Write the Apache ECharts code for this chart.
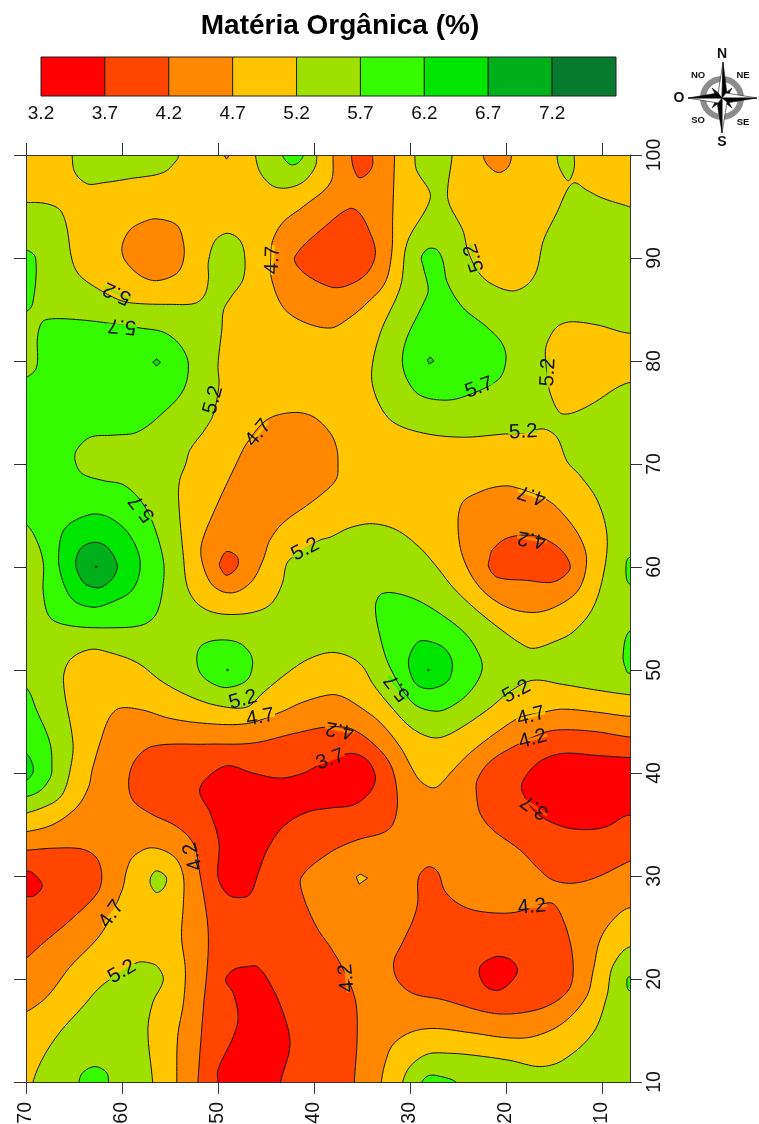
<!DOCTYPE html>
<html><head><meta charset="utf-8">
<style>html,body{margin:0;padding:0;background:#fff}#c{width:759px;height:1124px}</style>
<script src="https://cdn.jsdelivr.net/npm/echarts@6/dist/echarts.min.js"></script>
</head><body><div id="c"></div>
<script>
// Legend
const levels = [3.2,3.7,4.2,4.7,5.2,5.7,6.2,6.7,7.2];
const bandColors = ['#FF0000','#FF4500','#FF8800','#FFC600','#A0E000','#36FA00','#00E600','#00B01A','#067A2D'];
// Axes
const xTicks = [10,20,30,40,50,60,70];
const yTicks = [10,20,30,40,50,60,70,80,90,100];
// Contour regions, [x, y] in data units (band index = legend class)
const yellowMain = [[70,95.4],[68,95.3],[66.5,94.7],[65.8,93.2],[65.2,89.8],[64.4,88.3],[62.3,86.9],[60.2,85.9],[58.6,85.6],[55,85.5],[52.4,85.6],[51.4,86.4],[51,87.9],[51,89.6],[50.3,91.7],[49,92.4],[47.7,91.7],[47.2,90],[47.4,87.9],[48.5,86.4],[49.4,85],[49.6,83],[50,79.6],[49.9,77.7],[50.5,74.8],[51.4,73.3],[52.9,71.4],[53.4,69.9],[54,68.4],[54.1,66.5],[53.6,61],[53.2,58.1],[52.2,56.5],[50.5,55.6],[48,55.4],[45.6,55.8],[44.3,56.6],[43.3,58.4],[42.8,60.4],[41.8,61.2],[39.4,62.6],[38.3,62.9],[36.3,63.8],[33.9,64.2],[31.4,63.6],[29,61.9],[27.2,60],[25.5,58],[23.4,56.1],[20.9,54.2],[18.5,52.6],[17.2,52.1],[15.1,52.7],[13,53.7],[10.9,56.1],[9.7,60],[9.5,63.3],[10.5,66.5],[12.3,68.9],[13.6,70.2],[14.7,72.6],[16.1,73.4],[18.2,73],[20.3,72.9],[24.5,72.6],[28.6,73],[31.8,74.1],[33.4,76.2],[34,78.8],[33.1,82.7],[31,87.2],[30.3,91.5],[28.2,95],[27.9,96.3],[29.3,98.5],[29.5,100],[29.5,101.5],[71.5,101.5],[71.5,95.4]];
const yellowTopRight = [[25.6,100],[26.1,96.3],[25.8,95],[24.5,92.7],[24,90.8],[23,88.8],[21.7,87.6],[19.4,86.8],[17.8,87.4],[16.8,88.8],[16.1,91.7],[14.7,94.4],[13.5,96.8],[12.8,97.3],[11.6,96.6],[9.9,95.8],[7.2,95],[5.5,94.5],[5.5,101.5],[25.6,101.5]];
const yellowRight80 = [[7.2,82.7],[10.5,83.5],[13.3,83.8],[14.7,83.3],[15.6,82],[15.9,80.9],[15.7,78.6],[15.4,76.9],[14.4,75],[13.3,74.9],[11.3,75.7],[7.2,77.9],[5.5,77],[5.5,83]];
const yellowLower = [[70,36.1],[67.2,37.1],[66.1,38.1],[65.4,40.3],[65.1,42.9],[66.1,49],[65.4,51],[63.3,52],[61.3,51.7],[58.4,50.7],[55.7,48.8],[52.6,47.3],[49.8,46.5],[47,46.4],[45.3,47.8],[42.8,49.7],[40.7,51],[38.3,51.7],[36.3,51.3],[34.9,50.3],[33.9,48.7],[32.3,46.8],[30,44.5],[28,43.5],[26.6,43.5],[24.5,44.5],[21.7,46.3],[19.6,47.9],[17.2,49],[14.1,48.6],[10.9,48.1],[7.2,47.6],[5.5,47.5],[5.5,22.5],[7.2,23.1],[8.9,21.2],[9.5,18.3],[10.9,14.8],[14.1,12.1],[16.5,11.5],[19.6,12.1],[23.4,12.6],[26.1,12.8],[28.2,12.7],[30,11.5],[30.8,9.9],[31,8.5],[56.8,8.5],[56.8,9.9],[57.3,15],[56.8,17.7],[55.7,19.9],[56.3,21.2],[57.3,21.6],[58.4,21.6],[60.2,20.6],[62.3,19.2],[64.1,17.3],[66.5,14.8],[68.2,12.4],[69.3,9.9],[69.3,8.5],[71.5,8.5],[71.5,36]];
const limeTop1 = [[65.2,100],[64.9,98.3],[63.6,97.2],[62,97.3],[59.2,97.7],[55.7,98.3],[54.3,99.5],[54.1,100],[54.1,101.5],[65.2,101.5]];
const limeTop2 = [[46.1,100],[45.6,98.3],[44.3,97],[42.8,96.8],[41.1,97.4],[39.9,98.8],[39.7,100],[39.7,101.5],[46.1,101.5]];
const limeTop3 = [[14.7,100],[14.4,98.7],[13.5,97.5],[12.9,98.7],[12.9,100],[12.9,101.5],[14.7,101.5]];
const limeSmall30 = [[56.4,30.5],[55.4,29.9],[55.6,28.9],[56.4,28.4],[57,29.1],[57,29.9]];
const greenTop2 = [[43.3,100],[42.5,99.1],[41.7,99.2],[41.1,100],[41.1,101.5],[43.3,101.5]];
const orangeLower = [[70,34.3],[67.2,35],[64.7,36.7],[63.5,38.6],[63.1,40.3],[62.3,42.9],[61.3,45.4],[60.2,46.3],[57.8,46.1],[55,45.3],[51.1,44.8],[47,44.8],[43.5,45.9],[41.1,46.9],[38.3,47.6],[37,47.4],[35.2,46.4],[33.1,44.9],[31,42.5],[29.7,40.3],[29,39.3],[27.9,38.6],[27.1,38.7],[25.5,40.3],[23.8,41.9],[20.9,44],[18.5,45.4],[16.1,45.9],[14.1,46.2],[10.5,45.9],[7.2,45.5],[5.5,45.5],[5.5,26.5],[7.2,26.9],[8.9,25.7],[10.2,23.8],[10.9,20.9],[11.6,18.3],[14.1,15.7],[17.2,14.4],[19.9,14.3],[23.8,14.8],[27.6,15.2],[30,14.8],[31.8,13.6],[32.6,11.8],[33,9.9],[33,8.5],[54.3,8.5],[54.3,9.9],[54.2,14.4],[53.6,17.7],[53.4,20.9],[53.8,24.1],[53.6,27.4],[53.6,29.9],[54.3,31.6],[55.7,32.5],[57.3,32.7],[58.9,31.8],[59.5,30.6],[60,28.6],[62.1,24.5],[65.4,21.2],[67.8,18.3],[70,16.8],[71.5,16.5],[71.5,34.3]];
const orangeTop = [[38,100],[38.3,97.3],[41.1,95],[43.2,93.5],[44.3,91.7],[44.5,89.8],[44.4,87.9],[43.2,85.2],[41.1,83.8],[38.3,83.2],[36.6,84],[34.5,85.6],[32.6,87.6],[31.9,90.5],[31.8,94],[31.6,100],[31.6,101.5],[38,101.5]];
const orangeCircle = [[56.4,93.8],[54.3,93.2],[53.6,91.5],[53.6,89.8],[54.3,88.5],[56.4,87.8],[58.1,88.3],[59.7,89.8],[60,91.1],[59.2,92.7],[57.8,93.5]];
const orangeTopSmall = [[22.4,100],[21.9,99],[20.8,98.3],[19.8,98.8],[19.4,100],[19.4,101.5],[22.4,101.5]];
const orangeTick = [[49.4,100],[49.1,99.6],[48.8,100],[48.8,101],[49.4,101]];
const orangeCentral = [[47.9,70.4],[47,72],[44.9,74.3],[42.2,75],[40.1,74.6],[38.3,73],[37.6,71.4],[37.5,69.7],[37.6,68.7],[38.3,67.8],[40.4,66.2],[43.2,64.3],[44.6,62.6],[45.3,60.7],[46.4,58.7],[48,57.6],[49.5,57.6],[50.8,58.5],[51.7,60.7],[51.7,62.3],[50.5,65.2]];
const orangeRight = [[25,64.3],[24.5,66.3],[22.7,67.3],[20.9,67.8],[19.3,67.8],[15.7,66.5],[14.1,65.2],[12.3,62.9],[11.6,60.7],[12.3,58],[14.1,56.5],[16.8,55.6],[19.9,56.1],[22.7,58],[24.5,61]];
const deepMain = [[59.3,39.3],[58.6,41.3],[56.8,42.6],[51.1,42.8],[46.4,42.9],[41.8,43.9],[38.3,44.5],[35.9,44.2],[33.1,42.2],[31.8,40.3],[31.3,37.1],[31.8,35],[32.8,34.2],[35.5,33.5],[38.3,32.3],[41.3,29.9],[41.1,28],[39.7,25],[38.3,23.1],[37.1,21.2],[35.7,18],[35.5,14.4],[35.8,9.9],[35.8,8.5],[52.1,8.5],[52.1,9.9],[51.6,16.3],[51,24.1],[51.9,30.3],[52.6,33.2],[54.3,34.8],[57.1,36.1],[58.9,37.4]];
const deepRight = [[7.2,43.5],[10.5,44],[14.1,44.2],[16.1,43.9],[20.3,42],[22,40.8],[23,39.3],[23.1,38.3],[22.7,36.1],[21.4,34.5],[18.5,32.5],[16.5,30.6],[15.1,29.6],[13,29.3],[10.5,29.9],[7.2,31.4],[5.5,32],[5.5,43.5]];
const deepLeft = [[70,32.5],[67.2,32.7],[64.1,32.6],[62.6,31.7],[62.1,29.9],[62.6,28.3],[65.4,25.7],[68.2,23.5],[70,22],[71.5,21],[71.5,32.5]];
const deepLowerRight = [[28.1,30.9],[27.1,30.4],[26.4,28.6],[25.1,27.4],[23.4,26.7],[20.9,26.4],[18.9,26.5],[15.4,27.4],[14.4,26.5],[13.3,23.5],[13,20.6],[13.5,18.9],[15.4,17.5],[17.8,16.8],[20.6,16.6],[23,17],[26.6,18],[29.7,18.6],[31.3,19.9],[31.7,21.6],[30.8,23.5],[29.7,25.7],[29.2,27.4],[29.1,29.9]];
const deepTop = [[38.3,93.5],[42,90.1],[41.1,88.6],[38.3,87.2],[36.6,87.3],[34.5,88.5],[33.6,90.5],[34.4,93],[35.4,94.5],[36.3,94.8]];
const deepTopSmall = [[36.1,100],[35.9,98.8],[35.3,97.8],[34.4,98.2],[33.9,99],[33.9,100],[33.9,101.5],[36.1,101.5]];
const deepRight60 = [[21.7,60.9],[21.4,61.7],[19.9,62.8],[17.5,63.1],[15.7,62.6],[14.1,61.5],[13.3,60],[14.1,59],[15.4,58.5],[17.8,58.7],[20.9,59],[21.8,60]];
const deepCentral60 = [[49.8,60.5],[49.1,61.5],[48,61],[48,60],[49.1,59.2],[49.8,60]];
const redMain = [[51.4,39.3],[49.1,40.7],[46.4,40],[43.5,39.5],[41.1,40],[39.4,40.8],[36.3,41.9],[34.5,41.3],[33.6,39.6],[34.2,38.1],[35.9,36.9],[38.3,36.6],[40.7,36.2],[43.2,34.8],[44.9,32.5],[45.8,30.3],[46.7,28.2],[48,27.9],[49.1,28.3],[50,29.9],[49.9,33.2],[50.8,36.1],[51.9,38.1]];
const redRight = [[18.2,39.3],[16.5,41.1],[14.1,41.9],[10.5,41.7],[7.2,41.5],[5.5,41.5],[5.5,35],[7.2,35.9],[9.5,34.8],[11.6,34.5],[14.1,34.8],[16.8,36.1],[18.3,38.2]];
const redLeft = [[70,30.5],[69.3,30.3],[68.3,29.1],[69.1,28.1],[70,28],[71.5,28],[71.5,30.5]];
const redBottom = [[50,9.9],[50,11.2],[48.4,14.4],[47.9,16.3],[48.4,18.6],[49.2,19.9],[48.4,20.9],[47,21.2],[45.9,21.2],[44.6,19.6],[43.2,16.7],[42.5,13.6],[43.5,9.9],[43.5,8.5],[50,8.5]];
const redDot20 = [[20.8,22.2],[19.4,21.8],[18.8,20.8],[19.6,19.6],[20.8,18.9],[22,19.2],[22.7,20.2],[22.7,21.2],[22,21.8]];
const yellowSmall30 = [[35.6,29.9],[35.2,30.2],[34.4,29.8],[35.3,29.2]];
const greenLeftSliver = [[70,90.8],[69,90],[69.3,85.6],[70,84.8],[71.5,84.8],[71.5,90.8]];
const greenLeftBig = [[70,78.4],[68.9,79.4],[68.8,82.3],[68.3,83.8],[67.2,84.1],[64.4,84],[61.6,83.7],[58.1,83.2],[55.7,82.8],[54,81.6],[53.1,79.8],[53.6,77.2],[55.7,75],[58.4,73.1],[60.9,72.8],[63.3,72.6],[64.7,71.4],[64.9,70.4],[64.2,69.1],[62,68.4],[59.9,68],[58.1,66.5],[56.8,64.3],[55.7,60.7],[55.7,58.4],[56.4,55.5],[57.8,54.4],[60.9,54.1],[65.4,54.3],[67.5,55.1],[68.2,57.5],[68.2,60.4],[68.9,62.6],[70,64.1],[71.5,64],[71.5,78.4]];
const peak60Ring = [[63.3,65.1],[61.3,64.8],[59.2,63.1],[58.1,60.4],[58.9,57.8],[61.3,56.5],[63.1,56.1],[65.1,56.8],[66.3,59],[66.6,61.4],[65.9,63.8]];
const peak60Core = [[62.8,62.4],[61.5,61.9],[60.5,60.2],[60.9,59],[62,58.1],[62.8,58],[63.9,58.4],[64.7,59.7],[64.8,60.7],[64.2,61.9]];
const greenMid80 = [[28.1,90.9],[27.2,90.8],[26.6,89.8],[26.1,87.6],[24.5,85.2],[22,83.3],[20.4,81.7],[20,80.1],[20.8,78.2],[24.5,76.5],[26.6,76.2],[29,76.7],[30.3,78.2],[30.8,80.1],[30.3,82.3],[28.6,85.6],[28.1,86.9],[28.6,89.1],[28.8,90.1]];
const diamondRight80 = [[28.2,80.1],[27.9,80.4],[27.5,80],[28,79.7]];
const diamondLeft80 = [[56.8,79.9],[56.4,80.2],[56,79.9],[56.4,79.5]];
const green50Left = [[52.2,51.3],[51.7,52.4],[50.1,52.9],[48,52.7],[46.7,51.7],[46.4,50.5],[47,49],[49.1,48.3],[50.8,48.8],[51.9,49.8]];
const green50Right = [[33.6,56.1],[33.1,57.3],[31.8,57.5],[29.3,56.8],[26.6,55.3],[24.1,53.4],[22.7,51.3],[22.5,50],[23.4,48.3],[25.1,46.8],[27.2,46],[29.7,46.8],[32.1,50.3],[33.1,53.2]];
const green50Core = [[29.2,52.7],[28.1,52.8],[26.4,52.1],[25.6,50.7],[26,49],[27.7,48.2],[29.2,48.5],[30,49.8],[30.1,51.2]];
const green40Left = [[70,48.3],[68.9,46.1],[67.5,42.9],[67.3,40.3],[67.5,39.5],[68.5,38.3],[70,37.7],[71.5,37.7],[71.5,48.3]];
const green40Core = [[70,41.9],[69.3,40.8],[69.3,40],[70,39.3],[71.5,39.3],[71.5,41.9]];
const greenBottom1 = [[64.5,9.9],[64.1,10.9],[62.8,11.5],[61.6,10.9],[61.4,9.9],[61.4,8.5],[64.5,8.5]];
const greenBottom2 = [[28.8,9.9],[28.1,10.6],[27.1,10.6],[25.1,9.9],[25.1,8.5],[28.8,8.5]];
const greenEdge60 = [[7.2,60.9],[7.5,60],[7.2,58.4],[5.5,58.4],[5.5,60.9]];
const greenEdge50 = [[7.2,53.7],[7.8,51.3],[7.4,49.8],[7.2,49.7],[5.5,49.7],[5.5,53.7]];
const greenEdge20 = [[7.2,20.2],[7.4,19.9],[7.2,18.9],[5.5,18.9],[5.5,20.2]];
// Paint order: region, band index into bandColors
const paintOrder = [
 [yellowMain,3],[yellowTopRight,3],[yellowRight80,3],[yellowLower,3],
 [limeTop1,4],[limeTop2,4],[limeTop3,4],[limeSmall30,4],[greenTop2,5],
 [orangeLower,2],[orangeTop,2],[orangeCircle,2],[orangeTopSmall,2],[orangeTick,2],[orangeCentral,2],[orangeRight,2],
 [deepMain,1],[deepRight,1],[deepLeft,1],[deepLowerRight,1],[deepTop,1],[deepTopSmall,1],[deepRight60,1],[deepCentral60,1],
 [redMain,0],[redRight,0],[redLeft,0],[redBottom,0],[redDot20,0],[yellowSmall30,3],
 [greenLeftSliver,5],[greenLeftBig,5],[peak60Ring,6],[peak60Core,7],[greenMid80,5],[diamondRight80,6],[diamondLeft80,6],
 [green50Left,5],[green50Right,5],[green50Core,6],[green40Left,5],[green40Core,6],
 [greenBottom1,5],[greenBottom2,5],[greenEdge60,5],[greenEdge50,5],[greenEdge20,5]
];
const peakDots = [[62.7,60],[49,50],[28.1,50]];
// Contour labels: x, y, text, angle in degrees
const contourLabels = [
 [60.5,86.6,'5.2',155],[60,83.4,'5.7',175],[44.3,89.8,'4.7',88],[50.5,76.2,'5.2',75],[45.8,73,'4.7',50],
 [23.3,90,'5.2',108],[22.8,77.4,'5.7',20],[15.6,78.9,'5.2',87],[18.2,73.1,'5.2',3],[57.9,65.7,'5.7',128],
 [40.9,61.7,'5.2',27],[47.4,47.1,'5.2',15],[45.6,45.4,'4.7',10],[37.3,44.2,'4.2',170],[38.3,41.3,'3.7',20],
 [17.4,45.5,'4.7',15],[18.9,47.9,'5.2',28],[17.2,43.3,'4.2',15],[17,36.7,'3.7',145],[31.3,48.3,'5.7',128],
 [17.3,67,'4.7',162],[17.3,62.7,'4.2',170],[52.6,31.9,'4.2',105],[61.1,26.3,'4.7',55],[60,20.7,'5.2',30],
 [17.3,27,'4.2',5],[36.6,20.1,'4.2',95]
];

const FONT = '"Liberation Sans", Arial, sans-serif';
const tickStyle = {lineStyle:{color:'#333',width:1},length:12};
const lineStyleAxis = {show:true,lineStyle:{color:'#333',width:1}};
const C = [722,98];
function poly(pts,fill,extra){return Object.assign({type:'polygon',shape:{points:pts},style:{fill:fill,stroke:'#111',lineWidth:0.6},z:100},extra||{});}
function mark(text,x,y,size){return {type:'text',x:x,y:y,z:101,style:{text:text,fill:'#111',font:'bold '+size+'px '+FONT,textAlign:'center',textVerticalAlign:'middle'}};}
const compass = [
 {type:'circle',shape:{cx:C[0],cy:C[1],r:19},style:{fill:'none',stroke:'#8c8c8c',lineWidth:6},z:99},
 poly([[732,88],[723,95],[726,99]],'#111'),poly([[712,88],[721,95],[718,99]],'#111'),
 poly([[712,108],[721,101],[718,97]],'#111'),poly([[732,108],[723,101],[726,97]],'#111'),
 poly([[723,62],[718,94],[722,98]],'#fff'),poly([[723,62],[727,94],[722,98]],'#000'),
 poly([[757,98],[726,93],[722,98]],'#fff'),poly([[757,98],[726,103],[722,98]],'#000'),
 poly([[722,133],[727,102],[722,98]],'#fff'),poly([[722,133],[717,102],[722,98]],'#000'),
 poly([[688,98],[718,103],[722,98]],'#fff'),poly([[688,98],[718,93],[722,98]],'#000'),
 mark('N',722,54,14),mark('S',722,142,14),mark('O',679,98,14),
 mark('NO',698,75,9.5),mark('NE',743,75,9.5),mark('SO',698,120,9.5),mark('SE',743,122,9.5)
];
// Draws a closed curve through the read points (render-time smoothing of the outline only).
function smoothOutline(pts){
  const xs=pts.map(p=>p[0]),ys=pts.map(p=>p[1]);
  if(Math.max(...xs)-Math.min(...xs)<16&&Math.max(...ys)-Math.min(...ys)<20) return pts;
  const n=pts.length,out=[];
  const dist=(a,b)=>Math.max(Math.hypot(a[0]-b[0],a[1]-b[1]),1e-3);
  const tan=i=>{const a=pts[(i-1+n)%n],b=pts[i],c=pts[(i+1)%n],d=dist(a,b)+dist(b,c);return [(c[0]-a[0])/d,(c[1]-a[1])/d];};
  for(let i=0;i<n;i++){
    const p=pts[i],q=pts[(i+1)%n],d=dist(p,q),m0=tan(i),m1=tan((i+1)%n);
    const c1=[p[0]+m0[0]*d/3,p[1]+m0[1]*d/3],c2=[q[0]-m1[0]*d/3,q[1]-m1[1]*d/3];
    for(let k=0;k<8;k++){
      const t=k/8,u=1-t;
      out.push([u*u*u*p[0]+3*u*u*t*c1[0]+3*u*t*t*c2[0]+t*t*t*q[0],u*u*u*p[1]+3*u*u*t*c1[1]+3*u*t*t*c2[1]+t*t*t*q[1]]);
    }
  }
  return out;
}

const chart = echarts.init(document.getElementById('c'),null,{renderer:'canvas'});
chart.setOption({
 animation:false,
 backgroundColor:'#fff',
 textStyle:{fontFamily:FONT},
 title:{text:'Matéria Orgânica (%)',left:335,top:7,textAlign:'center',textStyle:{fontFamily:FONT,fontWeight:'bold',fontSize:28,color:'#000'}},
 grid:[
  {left:26,top:155,width:604,height:927,show:true,backgroundColor:bandColors[4],borderWidth:0,outerBoundsMode:'none'},
  {left:41,top:57,width:575,height:39,outerBoundsMode:'none'}
 ],
 xAxis:[
  {type:'value',gridIndex:0,inverse:true,min:7.08,max:70,position:'bottom',z:5,splitLine:{show:false},axisLine:Object.assign({onZero:false},lineStyleAxis),
   axisTick:Object.assign({customValues:xTicks},tickStyle),
   axisLabel:{customValues:xTicks,rotate:90,margin:20,fontSize:19.5,color:'#111',fontFamily:FONT,padding:[0,0,3,0]}},
  {type:'value',gridIndex:0,inverse:true,min:7.08,max:70,position:'top',z:5,splitLine:{show:false},axisLine:Object.assign({onZero:false},lineStyleAxis),
   axisTick:Object.assign({customValues:xTicks},tickStyle),axisLabel:{show:false}},
  {type:'value',gridIndex:1,min:3.2,max:7.7,position:'bottom',splitLine:{show:false},axisLine:{show:false},axisTick:{show:false},
   axisLabel:{customValues:levels,margin:8,fontSize:19,color:'#111',fontFamily:FONT,hideOverlap:false}}
 ],
 yAxis:[
  {type:'value',gridIndex:0,min:10,max:100,interval:10,position:'left',z:5,splitLine:{show:false},axisLine:Object.assign({onZero:false},lineStyleAxis),
   axisTick:Object.assign({customValues:yTicks},tickStyle),axisLabel:{show:false}},
  {type:'value',gridIndex:0,min:10,max:100,interval:10,position:'right',z:5,splitLine:{show:false},axisLine:Object.assign({onZero:false},lineStyleAxis),
   axisTick:Object.assign({customValues:yTicks},tickStyle),
   axisLabel:{customValues:yTicks,rotate:90,margin:15,fontSize:19.5,color:'#111',fontFamily:FONT}},
  {type:'value',gridIndex:1,min:0,max:1,show:false}
 ],
 graphic:compass,
 series:[
  {type:'custom',xAxisIndex:0,yAxisIndex:0,clip:true,silent:true,z:2,
   data:paintOrder.map((p,i)=>[i,50]),
   renderItem:function(params,api){
     const r=paintOrder[params.dataIndex];
     return {type:'polygon',shape:{points:smoothOutline(r[0].map(q=>api.coord(q)))},
       style:{fill:bandColors[r[1]],stroke:'#111',lineWidth:1}};
   }},
  {type:'scatter',xAxisIndex:0,yAxisIndex:0,silent:true,z:2,symbolSize:2.6,itemStyle:{color:'#111'},data:peakDots},
  {type:'custom',xAxisIndex:0,yAxisIndex:0,clip:true,silent:true,z:3,
   data:contourLabels.map((l,i)=>[l[0],l[1]]),
   renderItem:function(params,api){
     const l=contourLabels[params.dataIndex];
     const p=api.coord([l[0],l[1]]);
     const rot=l[3]*Math.PI/180;
     const band=levels.indexOf(parseFloat(l[2]));
     return {type:'group',children:[
       {type:'line',x:p[0],y:p[1],rotation:rot,shape:{x1:-15,y1:0,x2:15,y2:0},style:{stroke:bandColors[band],lineWidth:3}},
       {type:'text',x:p[0],y:p[1],rotation:rot,style:{text:l[2],fill:'#111',font:'20.5px '+FONT,textAlign:'center',textVerticalAlign:'middle'}}
     ]};
   }},
  {type:'custom',xAxisIndex:2,yAxisIndex:2,silent:true,z:2,
   data:levels.map((v,i)=>[v,0.5]),
   renderItem:function(params,api){
     const v=levels[params.dataIndex];
     const a=api.coord([v,1]),b=api.coord([v+0.5,0]);
     return {type:'rect',shape:{x:a[0],y:a[1],width:b[0]-a[0],height:b[1]-a[1]},
       style:{fill:bandColors[params.dataIndex],stroke:'#222',lineWidth:1}};
   }}
 ]
});
</script></body></html>
